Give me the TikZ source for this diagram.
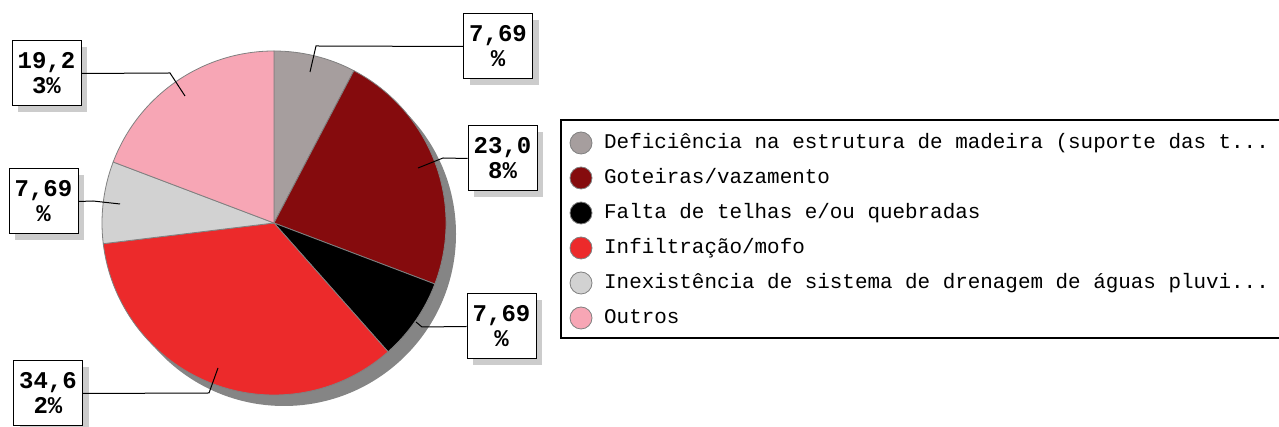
\documentclass[tikz,border=0pt]{standalone}
\usepackage{fontspec}
\setmonofont{Liberation Mono}
\usetikzlibrary{positioning, calc, shadows}
\definecolor{defcol}{HTML}{A69E9E}
\definecolor{gotcol}{HTML}{850B0D}
\definecolor{faltcol}{HTML}{000000}
\definecolor{infcol}{HTML}{EC2A2B}
\definecolor{inexcol}{HTML}{D2D2D2}
\definecolor{outcol}{HTML}{F7A6B5}
\definecolor{edgegray}{HTML}{808080}
\definecolor{pieshadow}{HTML}{858585}
\definecolor{boxshadow}{HTML}{CCCCCC}
\tikzstyle{Leader} = [
%thin line from a value box into its slice:
line width=1pt, black, line join=miter
]

\begin{document}
\begin{tikzpicture}[x=1pt, y=1pt,
			slice/.style = {draw=edgegray, line width=0.8pt},
			valuebox/.style = {rectangle, draw, line width=1pt, fill=white, text centered, align=center, minimum width=69pt, minimum height=65pt, inner sep=0pt, font=\ttfamily\bfseries\fontsize{24}{25}\selectfont, drop shadow={shadow xshift=6pt, shadow yshift=-6pt, fill=boxshadow, opacity=1}},
			keydot/.style = {circle, draw=edgegray, line width=0.8pt, minimum size=22pt, inner sep=0pt},
			keytext/.style = {anchor=base west, inner sep=0pt, font=\ttfamily\fontsize{20.9}{24}\selectfont},
		]
		\useasboundingbox (0,0) rectangle (1279,427);

		% pie with its shadow
		\fill[pieshadow] (284,193) circle (172);
		\coordinate (C) at (274,204);
		\foreach \from/\to/\col in {90/62.32/defcol, 62.32/-20.77/gotcol, -20.77/-48.46/faltcol, -48.46/-173.09/infcol, 186.91/159.23/inexcol, 159.23/90/outcol}
			\filldraw[slice, fill=\col] (C) -- ++(\from:172) arc (\from:\to:172) -- cycle;

		% value boxes
		\node[valuebox](vDef) at (498,380.5){7,69\\\%};
		\node[valuebox](vGot) at (502.5,268.5){23,0\\8\%};
		\node[valuebox](vFal) at (501.5,100.5){7,69\\\%};
		\node[valuebox](vInf) at (48,33.5){34,6\\2\%};
		\node[valuebox](vInex) at (43.5,225.5){7,69\\\%};
		\node[valuebox](vOut) at (46.5,353.5){19,2\\3\%};

		\coordinate(eDef) at (316,381);  \coordinate(pDef) at (310,355);
		\coordinate(eGot) at (443,269);  \coordinate(pGot) at (418,259);
		\coordinate(eFal) at (422,100);  \coordinate(pFal) at (416,105);
		\coordinate(eInf) at (209,34);   \coordinate(pInf) at (218,59);
		\coordinate(eInex) at (93,226);  \coordinate(pInex) at (120,223);
		\coordinate(eOut) at (170,354);  \coordinate(pOut) at (185,331);

		\draw[Leader](vDef.west)--(eDef)--(pDef);
		\draw[Leader](vGot.west)--(eGot)--(pGot);
		\draw[Leader](vFal.west)--(eFal)--(pFal);
		\draw[Leader](vInf.east)--(eInf)--(pInf);
		\draw[Leader](vInex.east)--(eInex)--(pInex);
		\draw[Leader](vOut.east)--(eOut)--(pOut);

		% legend
		\draw[line width=2.5pt] (561,307) rectangle (1300,89);
		\node[keydot, fill=defcol](kDef) at (581,284){};
		\node[keydot, fill=gotcol](kGot) at (581,249){};
		\node[keydot, fill=faltcol](kFal) at (581,214){};
		\node[keydot, fill=infcol](kInf) at (581,179){};
		\node[keydot, fill=inexcol](kInex) at (581,144){};
		\node[keydot, fill=outcol](kOut) at (581,109){};
		\node[keytext](tDef) at (604,278){Deficiência na estrutura de madeira (suporte das t...};
		\node[keytext](tGot) at (604,243){Goteiras/vazamento};
		\node[keytext](tFal) at (604,208){Falta de telhas e/ou quebradas};
		\node[keytext](tInf) at (604,173){Infiltração/mofo};
		\node[keytext](tInex) at (604,138){Inexistência de sistema de drenagem de águas pluvi...};
		\node[keytext](tOut) at (604,103){Outros};
	\end{tikzpicture}
\end{document}
